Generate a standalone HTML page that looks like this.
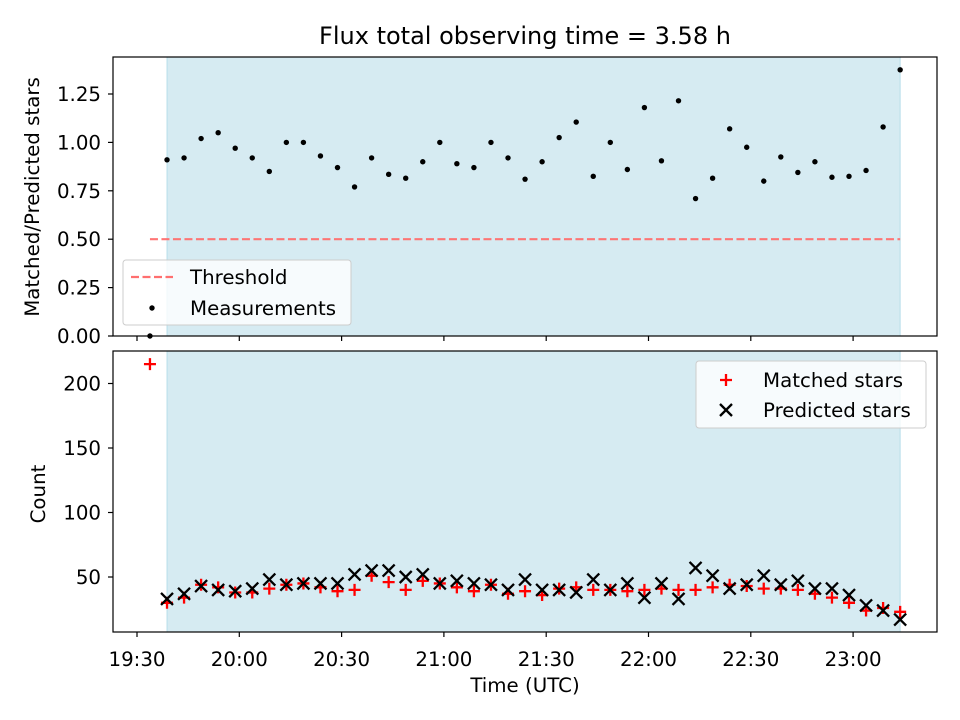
<!DOCTYPE html>
<html><head><meta charset="utf-8"><style>
body{margin:0;background:#fff}
svg{display:block;font-family:"DejaVu Sans","Liberation Sans",sans-serif}
</style></head><body>
<svg id="chart" width="960" height="720" viewBox="0 0 960 720" xmlns="http://www.w3.org/2000/svg"></svg>
<script>
// Minutes after 19:30 for each observation
const timeMinutes = [3.8,8.8,13.8,18.8,23.8,28.8,33.8,38.8,43.8,48.8,53.8,58.8,63.8,68.8,73.8,78.8,83.8,88.8,93.8,98.8,103.8,108.8,113.8,118.8,123.8,128.8,133.8,138.8,143.8,148.8,153.8,158.8,163.8,168.8,173.8,178.8,183.8,188.8,193.8,198.8,203.8,208.8,213.8,218.8,223.8];
const ratioValues = [0.0,0.91,0.92,1.02,1.05,0.97,0.92,0.85,1.0,1.0,0.93,0.87,0.77,0.92,0.835,0.815,0.90,1.0,0.89,0.87,1.0,0.92,0.81,0.90,1.025,1.105,0.825,1.0,0.86,1.18,0.905,1.215,0.71,0.815,1.07,0.975,0.80,0.925,0.845,0.90,0.82,0.825,0.855,1.08,1.375];
const matchedValues = [215,30,34,44,42,38,38,41,44,45,42,39,40,51,46,40,47,45,42,39,44,37,39,36,41,42,40,40,39,40,41,40,40,42,44,43,41,41,40,37,34,30,24,26,23];
const predictedValues = [null,33,37,43,40,39,41,48,44,45,45,45,52,55,55,50,52,45,47,45,44,40,48,40,40,38,48,40,45,34,45,33,57,51,41,44,51,44,47,41,41,36,28,24,17];
const xTickMinutes = [0,30,60,90,120,150,180,210];
const xTickLabels = ["19:30","20:00","20:30","21:00","21:30","22:00","22:30","23:00"];
const topYTicks = [0,0.25,0.5,0.75,1.0,1.25];
const topYLabels = ["0.00","0.25","0.50","0.75","1.00","1.25"];
const botYTicks = [50,100,150,200];
const thresholdValue = 0.5;

const NS="http://www.w3.org/2000/svg";
const svg=document.getElementById('chart');
function el(tag,attrs,parent){const e=document.createElementNS(NS,tag);for(const k in attrs)e.setAttribute(k,attrs[k]);(parent||svg).appendChild(e);return e;}
const L=113,R=937,T1=57,B1=336,T2=351,B2=632;
const FS=19.8;
const x=m=>137+m*(102.3/30);
const y1=v=>336-v*193.6;
const y2=v=>641.5-v*1.29;

let t=el('text',{x:525,y:44,'text-anchor':'middle','font-size':24,fill:'#000'});t.textContent='Flux total observing time = 3.58 h';


function panel(T,B,name){
  const g=el('g',{});
  
  const band=el('rect',{x:x(timeMinutes[1]),y:T,width:x(timeMinutes[timeMinutes.length-1])-x(timeMinutes[1]),height:B-T,fill:'#add8e6','fill-opacity':0.5,stroke:'#add8e6','stroke-opacity':0.8},g);
  
  return g;
}
function frame(T,B,g){
  el('rect',{x:L,y:T,width:R-L,height:B-T,fill:'none',stroke:'#000','stroke-width':1.2},g);
  xTickMinutes.forEach(m=>{el('line',{x1:x(m),x2:x(m),y1:B,y2:B+5,stroke:'#000','stroke-width':1.2},g);});
}
const gTop=panel(T1,B1,'ratio-panel');
const th=el('line',{x1:x(timeMinutes[0]),x2:x(timeMinutes[timeMinutes.length-1]),y1:y1(thresholdValue),y2:y1(thresholdValue),stroke:'#ff6f6f','stroke-width':2.2,'stroke-dasharray':'8,3.5',opacity:0.95},gTop);

ratioValues.forEach((v,i)=>{const c=el('circle',{cx:x(timeMinutes[i]),cy:y1(v),r:2.7,fill:'#000'},gTop);
});
frame(T1,B1,gTop);
topYTicks.forEach((v,i)=>{el('line',{x1:L-5,x2:L,y1:y1(v),y2:y1(v),stroke:'#000','stroke-width':1.2},gTop);
 const tx=el('text',{x:L-12,y:y1(v)+7,'text-anchor':'end','font-size':FS},gTop);tx.textContent=topYLabels[i];
 });
t=el('text',{transform:'translate(39,197) rotate(-90)','text-anchor':'middle','font-size':FS});t.textContent='Matched/Predicted stars';

const lg1=el('g',{});
el('rect',{x:123,y:260,width:228,height:65,rx:3,fill:'#fff','fill-opacity':0.8,stroke:'#ccc'},lg1);
el('line',{x1:131,x2:173,y1:277,y2:277,stroke:'#ff6f6f','stroke-width':2.2,'stroke-dasharray':'8,3.5'},lg1);
el('circle',{cx:152,cy:308,r:2.7,fill:'#000'},lg1);
t=el('text',{x:190,y:284,'font-size':FS},lg1);t.textContent='Threshold';
t=el('text',{x:190,y:315,'font-size':FS},lg1);t.textContent='Measurements';

const gBot=panel(T2,B2,'count-panel');
function plus(cx,cy,g){return el('path',{d:`M${cx-6},${cy}H${cx+6}M${cx},${cy-6}V${cy+6}`,stroke:'#f00','stroke-width':2.3},g);}
function cross(cx,cy,g){return el('path',{d:`M${cx-6},${cy-6}L${cx+6},${cy+6}M${cx-6},${cy+6}L${cx+6},${cy-6}`,stroke:'#000','stroke-width':2.3},g);}
matchedValues.forEach((v,i)=>{const p=plus(x(timeMinutes[i]),y2(v),gBot);
});
predictedValues.forEach((v,i)=>{if(v==null)return;const p=cross(x(timeMinutes[i]),y2(v),gBot);
});
frame(T2,B2,gBot);
botYTicks.forEach(v=>{el('line',{x1:L-5,x2:L,y1:y2(v),y2:y2(v),stroke:'#000','stroke-width':1.2},gBot);
 const tx=el('text',{x:L-12,y:y2(v)+7,'text-anchor':'end','font-size':FS},gBot);tx.textContent=v;
 });
xTickMinutes.forEach((m,i)=>{const tx=el('text',{x:x(m),y:666,'text-anchor':'middle','font-size':FS},gBot);tx.textContent=xTickLabels[i];
 });
t=el('text',{transform:'translate(45,494) rotate(-90)','text-anchor':'middle','font-size':FS});t.textContent='Count';

t=el('text',{x:525,y:692,'text-anchor':'middle','font-size':FS});t.textContent='Time (UTC)';

const lg2=el('g',{});
el('rect',{x:696,y:361,width:230,height:67,rx:3,fill:'#fff','fill-opacity':0.8,stroke:'#ccc'},lg2);
plus(726,380,lg2);cross(726,410,lg2);
t=el('text',{x:763,y:387,'font-size':FS},lg2);t.textContent='Matched stars';
t=el('text',{x:763,y:417,'font-size':FS},lg2);t.textContent='Predicted stars';
</script>
</body></html>
